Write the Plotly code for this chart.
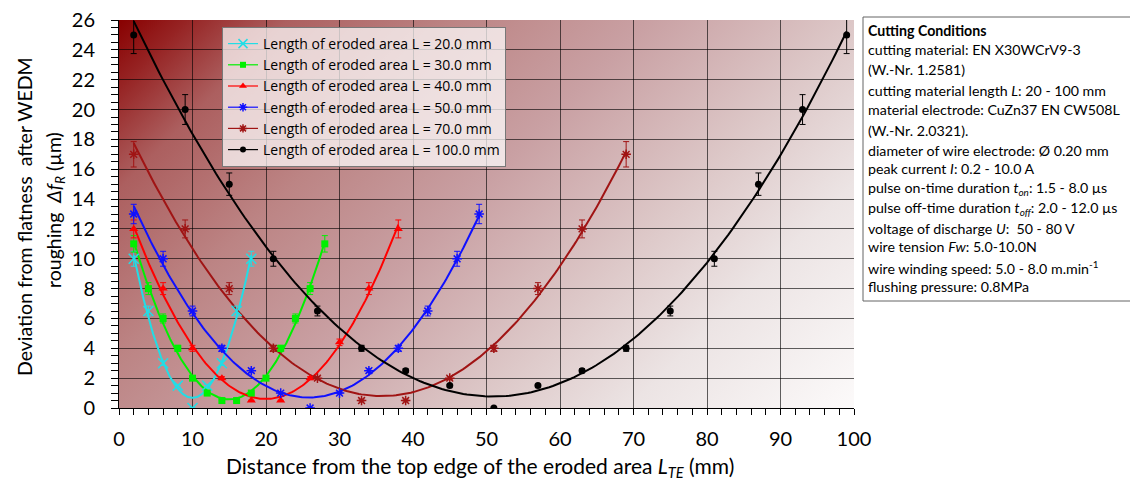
import base64
import numpy as np
import plotly.graph_objects as go

# ---------------- data ----------------
names = ["Length of eroded area L = 20.0 mm", "Length of eroded area L = 30.0 mm",
         "Length of eroded area L = 40.0 mm", "Length of eroded area L = 50.0 mm",
         "Length of eroded area L = 70.0 mm", "Length of eroded area L = 100.0 mm"]

l20_x = [2, 4, 6, 8, 10, 12, 14, 16, 18]
l20_y = [10, 6.5, 3, 1.5, 0, 1.5, 3, 6.5, 10]
l20_e = [0.5, 0.33, 0.15, 0.08, 0, 0.08, 0.15, 0.33, 0.5]

l30_x = [2, 4, 6, 8, 10, 12, 14, 16, 18, 20, 22, 24, 26, 28]
l30_y = [11, 8, 6, 4, 2, 1, 0.5, 0.5, 1, 2, 4, 6, 8, 11]
l30_e = [0.55, 0.4, 0.3, 0.2, 0.1, 0.05, 0.03, 0.03, 0.05, 0.1, 0.2, 0.3, 0.4, 0.55]

l40_x = [2, 6, 10, 14, 18, 22, 26, 30, 34, 38]
l40_y = [12, 8, 4, 2, 0.5, 0.5, 2, 4.4, 8, 12]
l40_e = [0.6, 0.4, 0.2, 0.1, 0.03, 0.03, 0.1, 0.22, 0.4, 0.6]

l50_x = [2, 6, 10, 14, 18, 22, 26, 30, 34, 38, 42, 46, 49]
l50_y = [13, 10, 6.5, 4, 2.5, 1, 0, 1, 2.5, 4, 6.5, 10, 13]
l50_e = [0.65, 0.5, 0.33, 0.2, 0.13, 0.05, 0, 0.05, 0.13, 0.2, 0.33, 0.5, 0.65]

l70_x = [2, 9, 15, 21, 27, 33, 39, 45, 51, 57, 63, 69]
l70_y = [17, 12, 8, 4, 2, 0.5, 0.5, 2, 4, 8, 12, 17]
l70_e = [0.85, 0.6, 0.4, 0.2, 0.1, 0.03, 0.03, 0.1, 0.2, 0.4, 0.6, 0.85]

l100_x = [2, 9, 15, 21, 27, 33, 39, 45, 51, 57, 63, 69, 75, 81, 87, 93, 99]
l100_y = [25, 20, 15, 10, 6.5, 4, 2.5, 1.5, 0, 1.5, 2.5, 4, 6.5, 10, 15, 20, 25]
l100_e = [1.25, 1.0, 0.75, 0.5, 0.33, 0.2, 0.13, 0.08, 0, 0.08, 0.13, 0.2, 0.33, 0.5, 0.75, 1.0, 1.25]

x_ticks = [0, 10, 20, 30, 40, 50, 60, 70, 80, 90, 100]
y_ticks = [0, 2, 4, 6, 8, 10, 12, 14, 16, 18, 20, 22, 24, 26]

info_lines = [
    "<b>Cutting Conditions</b>",
    "cutting material: EN X30WCrV9-3",
    "(W.-Nr. 1.2581)",
    "cutting material length <i>L</i>: 20 - 100 mm",
    "material electrode: CuZn37 EN CW508L",
    "(W.-Nr. 2.0321).",
    "diameter of wire electrode: Ø 0.20 mm",
    "peak current <i>I</i>: 0.2 - 10.0 A",
    "pulse on-time duration <i>t</i><sub><i>on</i></sub>: 1.5 - 8.0 µs",
    "pulse off-time duration <i>t</i><sub><i>off</i></sub>: 2.0 - 12.0 µs",
    "voltage of discharge <i>U</i>:  50 - 80 V",
    "wire tension <i>Fw</i>: 5.0-10.0N",
    "wire winding speed: 5.0 - 8.0 m.min<sup>-1</sup>",
    "flushing pressure: 0.8MPa",
]

# ---------------- styling ----------------
FONT = "Lato"
OFF = 8                      # page offset of the plot div (body margin)
W, H = 1138 - OFF, 490 - OFF
ML, MR, MT, MB = 111, 284, 12, 82
PW, PH = W - ML - MR, H - MT - MB

series = [
    (l20_x, l20_y, l20_e, "#22DDE6", "x-thin-open", 10),
    (l30_x, l30_y, l30_e, "#00F000", "square", 7),
    (l40_x, l40_y, l40_e, "#FF0000", "triangle-up", 8),
    (l50_x, l50_y, l50_e, "#1010FF", "asterisk-open", 8),
    (l70_x, l70_y, l70_e, "#A01414", "asterisk-open", 8),
    (l100_x, l100_y, l100_e, "#000000", "circle", 7),
]

fig = go.Figure()

# fitted trendlines (2nd order polynomial through the data)
for (xs, ys, es, col, sym, sz), nm in zip(series, names):
    c = np.polyfit(xs, ys, 2)
    xx = np.linspace(min(xs), max(xs), 200)
    fig.add_trace(go.Scatter(x=xx, y=np.polyval(c, xx), mode="lines",
                             line=dict(color=col, width=2), showlegend=False,
                             hoverinfo="skip"))

# measured points with error bars
for (xs, ys, es, col, sym, sz), nm in zip(series, names):
    lw = 1.5 if "open" in sym else 0
    fig.add_trace(go.Scatter(x=xs, y=ys, mode="markers", showlegend=False, name=nm,
                             marker=dict(symbol=sym, size=sz, color=col,
                                         line=dict(color=col, width=lw)),
                             error_y=dict(type="data", array=es, visible=True,
                                          color=col, thickness=1, width=3)))

# legend entries
for (xs, ys, es, col, sym, sz), nm in zip(series, names):
    lw = 1.5 if "open" in sym else 0
    fig.add_trace(go.Scatter(x=[None], y=[None], mode="lines+markers", name=nm,
                             line=dict(color=col, width=1.2),
                             marker=dict(symbol=sym, size=sz - 1, color=col,
                                         line=dict(color=col, width=lw))))

# gradient background (SVG)
D = (PW + PH) / 2
stops = [(0.0, "rgb(136,0,0)"), (0.06, "rgb(150,35,35)"), (0.15, "rgb(172,95,95)"),
         (0.30, "rgb(188,132,132)"), (0.47, "rgb(201,160,163)"),
         (0.66, "rgb(221,200,200)"), (0.80, "rgb(236,228,228)"), (1.0, "rgb(252,250,250)")]
stop_str = "".join(f'<stop offset="{o}" stop-color="{c}"/>' for o, c in stops)
svg = (f'<svg xmlns="http://www.w3.org/2000/svg" width="{PW}" height="{PH}" '
       f'viewBox="0 0 {PW} {PH}" preserveAspectRatio="none"><defs>'
       f'<linearGradient id="g" gradientUnits="userSpaceOnUse" x1="0" y1="0" x2="{D}" y2="{D}">'
       f'{stop_str}</linearGradient></defs>'
       f'<rect x="0" y="0" width="{PW}" height="{PH}" fill="url(#g)"/></svg>')
src = "data:image/svg+xml;base64," + base64.b64encode(svg.encode()).decode()

grid_col = "rgba(0,0,0,0.62)"
tickfont = dict(family=FONT, size=20, color="black")


def px(xp):
    return (xp - OFF - ML) / PW


def py(yp):
    return (MT + PH - (yp - OFF)) / PH


fig.update_layout(
    width=W, height=H,
    margin=dict(l=ML, r=MR, t=MT, b=MB, autoexpand=False),
    paper_bgcolor="white", plot_bgcolor="white",
    font=dict(family=FONT, color="black"),
    images=[dict(source=src, xref="x", yref="y", x=0, y=26, sizex=100, sizey=26,
                 sizing="stretch", xanchor="left", yanchor="top", layer="below")],
    xaxis=dict(range=[0, 100], tickvals=x_ticks, showgrid=True, gridcolor=grid_col,
               gridwidth=1, ticks="outside", ticklen=6, tickcolor="black",
               showline=True, linecolor="black", linewidth=1, zeroline=False,
               tickfont=tickfont, automargin=False, ticklabelstandoff=7,
               ticklabeloverflow="allow",
               minor=dict(dtick=2, ticks="outside", ticklen=6, tickcolor="black",
                          showgrid=False)),
    yaxis=dict(range=[0, 26], tickvals=y_ticks, showgrid=True, gridcolor=grid_col,
               gridwidth=1, ticks="outside", ticklen=7, tickcolor="black",
               showline=True, linecolor="black", linewidth=1, zeroline=False,
               tickfont=tickfont, automargin=False, ticklabelstandoff=12,
               ticklabeloverflow="allow",
               minor=dict(dtick=0.5, ticks="outside", ticklen=7, tickcolor="black",
                          showgrid=False)),
    legend=dict(x=px(222), y=py(27), xanchor="left", yanchor="top",
                bgcolor="rgba(255,255,255,0.72)", bordercolor="rgb(120,120,120)",
                borderwidth=1, font=dict(family="Open Sans", size=14, color="black"),
                itemwidth=30, tracegroupgap=0),
    showlegend=True,
)

anns = []
# axis titles
anns.append(dict(text="Distance from the top edge of the eroded area <i>L</i><sub><i>TE</i></sub> (mm)",
                 x=px(480), y=py(467), xref="paper", yref="paper", showarrow=False,
                 xanchor="center", yanchor="middle", font=dict(family=FONT, size=21)))
anns.append(dict(text="Deviation from flatness  after WEDM", textangle=-90,
                 x=px(24), y=py(217), xref="paper", yref="paper", showarrow=False,
                 xanchor="center", yanchor="middle", font=dict(family=FONT, size=19.5)))
anns.append(dict(text="roughing  <i>Δf</i><sub><i>R</i></sub> (µm)", textangle=-90,
                 x=px(55), y=py(210), xref="paper", yref="paper", showarrow=False,
                 xanchor="center", yanchor="middle", font=dict(family=FONT, size=19.5)))

# info box
line_y = [30.7, 50, 70, 90, 110, 130, 150, 168.5, 188, 208, 228, 247, 267, 286]
for txt, yy in zip(info_lines, line_y):
    anns.append(dict(text=txt, x=px(866), y=py(yy), xref="paper", yref="paper",
                     showarrow=False, xanchor="left", yanchor="middle",
                     font=dict(family=FONT, size=14.2, color="black")))
fig.update_layout(annotations=anns)

fig.add_shape(type="rect", xref="paper", yref="paper",
              x0=px(863), x1=px(1135.5), y0=py(301), y1=py(17),
              line=dict(color="rgb(100,100,100)", width=1), fillcolor="white", layer="below")

fig.write_html("out.html")
